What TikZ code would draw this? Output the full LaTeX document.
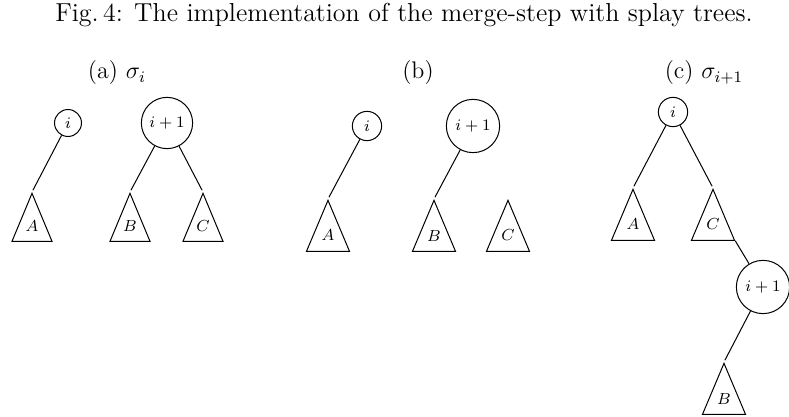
\documentclass[tikz,border=0pt]{standalone}
\usetikzlibrary{shapes.geometric}
\begin{document}
\begin{tikzpicture}[x=0.5pt,y=-0.5pt,line width=0.5pt,
  keynode/.style={circle,draw,inner sep=2.7pt,font=\fontsize{8}{9}\selectfont},
  subtree/.style={isosceles triangle,draw,shape border rotate=90,
    isosceles triangle stretches,minimum width=20pt,minimum height=24pt,
    inner sep=0pt,anchor=apex,font=\fontsize{8}{9}\selectfont},
  edge/.style={shorten >=1pt},
  paneltitle/.style={anchor=base,font=\fontsize{12}{14}\selectfont}]
\useasboundingbox (0,0) rectangle (789,417);
\newcommand\tlab[1]{\raisebox{2.5pt}{$#1$}}
% caption
\node[anchor=base,font=\fontsize{13}{15}\selectfont] (cap) at (404,22)
  {Fig.\,4: The implementation of the merge-step with splay trees.};
% (a) sigma_i
\node[paneltitle] (ta) at (117,79) {(a) $\sigma_i$};
\node[keynode] (ai) at (68,123) {$i$};
\node[keynode] (aj) at (167,123) {$i+1$};
\node[subtree] (aA) at (32,192) {\tlab{A}};
\node[subtree] (aB) at (130,192) {\tlab{B}};
\node[subtree] (aC) at (203,192) {\tlab{C}};
\draw[edge] (ai) -- (aA.apex);
\draw[edge] (aj) -- (aB.apex);
\draw[edge] (aj) -- (aC.apex);
\begin{scope}[keynode/.append style={inner sep=3.1pt,font=\fontsize{8.5}{9}\selectfont},
  subtree/.append style={minimum width=21.5pt,minimum height=25.5pt,font=\fontsize{8.5}{9}\selectfont}]
% (b) split
\node[paneltitle] (tb) at (418,79) {(b)};
\node[keynode] (bi) at (367,126) {$i$};
\node[keynode] (bj) at (473,126) {$i+1$};
\node[subtree] (bA) at (328,199) {\tlab{A}};
\node[subtree] (bB) at (434,199) {\tlab{B}};
\node[subtree] (bC) at (508,199) {\tlab{C}};
\draw[edge] (bi) -- (bA.apex);
\draw[edge] (bj) -- (bB.apex);
% (c) sigma_{i+1}
\node[paneltitle] (tc) at (704,79) {(c) $\sigma_{i+1}$};
\node[keynode] (ci) at (673,112) {$i$};
\node[subtree] (cA) at (633,188) {\tlab{A}};
\node[subtree] (cC) at (713,188) {\tlab{C}};
\node[keynode] (cj) at (763,287) {$i+1$};
\node[subtree] (cB) at (724,362) {\tlab{B}};
\draw[edge] (ci) -- (cA.apex);
\draw[edge] (ci) -- (cC.apex);
\draw (cC.right corner) -- (cj);
\draw[edge] (cj) -- (cB.apex);
\end{scope}
\end{tikzpicture}
\end{document}
